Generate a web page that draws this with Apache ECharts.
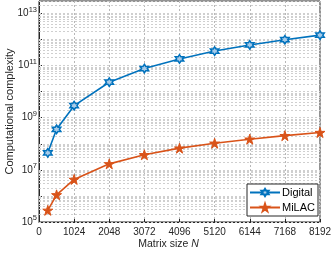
<!DOCTYPE html>
<html><head><meta charset="utf-8">
<script src="https://cdn.jsdelivr.net/npm/echarts@6/dist/echarts.min.js"></script>
<style>html,body{margin:0;padding:0;background:#fff}#c{width:333px;height:253px}</style>
</head><body><div id="c"></div>
<script>
// Data
const matrixSizes = [256, 512, 1024, 2048, 3072, 4096, 5120, 6144, 7168, 8192];
const digital = [4.5e7, 3.6e8, 2.9e9, 2.3e10, 7.7e10, 1.8e11, 3.6e11, 6.2e11, 9.8e11, 1.47e12];
const milac   = [2.8e5, 1.1e6, 4.3e6, 1.7e7, 3.8e7, 6.8e7, 1.05e8, 1.5e8, 2.05e8, 2.7e8];
const xTicks = [0, 1024, 2048, 3072, 4096, 5120, 6144, 7168, 8192];
const yLabelExponents = [5, 7, 9, 11, 13];
const seriesNames = ['Digital', 'MiLAC'];

const blue = '#0072BD', orange = '#D95319', ink = '#262626';
const font = 'Liberation Sans, Arial, Helvetica, sans-serif';

// minor log grid positions (2..9 x each decade)
const minorGrid = [];
for (let e = 5; e <= 13; e++) {
  for (let m = 1; m <= 9; m++) {
    const v = m * Math.pow(10, e);
    if (v <= 3e13) minorGrid.push({ yAxis: v });
  }
}

const hexagram = 'path://M0,-10L2.887,-5L8.66,-5L5.774,0L8.66,5L2.887,5L0,10L-2.887,5L-8.66,5L-5.774,0L-8.66,-5L-2.887,-5Z';
const pentagram = 'path://M0,-10L2.245,-3.09L9.511,-3.09L3.633,1.18L5.878,8.09L0,3.82L-5.878,8.09L-3.633,1.18L-9.511,-3.09L-2.245,-3.09Z';

const chart = echarts.init(document.getElementById('c'), null, { renderer: 'canvas' });
chart.setOption({
  animation: false,
  textStyle: { fontFamily: font, color: ink },
  grid: { left: 39, right: 13, top: 1, bottom: 31, outerBoundsMode: 'none', containLabel: false,
    show: true, borderColor: ink, borderWidth: 1, backgroundColor: 'transparent' },
  legend: {
    data: seriesNames,
    orient: 'vertical',
    left: 247, top: 184, z: 20,
    itemWidth: 30, itemHeight: 9, itemGap: 4,
    padding: [3, 3, 3, 2],
    borderColor: ink, borderWidth: 1, backgroundColor: '#fff',
    textStyle: { fontFamily: font, fontSize: 11, color: '#000', padding: [0, 0, 0, -3] }
  },
  xAxis: {
    type: 'value', min: 0, max: 8192, interval: 1024,
    name: '{a|Matrix size }{i|N}', nameLocation: 'middle', nameGap: 17, nameMoveOverlap: false,
    nameTextStyle: { padding: [0, 22, 0, 0], rich: { a: { fontSize: 10.5, fontFamily: font, color: ink }, i: { fontSize: 10.5, fontFamily: font, fontStyle: 'italic', color: ink } } },
    axisLine: { show: true, lineStyle: { color: ink } },
    axisTick: { show: true, inside: true, length: 3, lineStyle: { color: ink } },
    axisLabel: { fontSize: 10, color: ink, margin: 5, formatter: v => xTicks.includes(v) ? String(v) : '' },
    splitLine: { show: true, lineStyle: { color: '#b8b8b8', type: [2, 2], width: 1 } }
  },
  yAxis: {
    type: 'log', logBase: 10, min: 1e5, max: 3e13, splitNumber: 8,
    name: 'Computational complexity', nameLocation: 'middle', nameGap: 24, nameMoveOverlap: false,
    nameTextStyle: { fontSize: 11, color: ink },
    axisLine: { show: true, lineStyle: { color: ink } },
    axisTick: { show: true, inside: true, length: 3, lineStyle: { color: ink } },
    axisLabel: {
      showMaxLabel: false, margin: 2,
      formatter: v => {
        const e = Math.round(Math.log10(v));
        if (Math.abs(Math.log10(v) - e) > 1e-6) return '';
        if (!yLabelExponents.includes(e)) return '';
        return '{b|10}{s|' + e + '}';
      },
      rich: {
        b: { fontSize: 10, color: ink, fontFamily: font, lineHeight: 16, verticalAlign: 'middle' },
        s: { fontSize: 7.5, color: ink, fontFamily: font, lineHeight: 8, verticalAlign: 'top' }
      }
    },
    splitLine: { show: true, lineStyle: { color: '#c0c0c0', type: [2, 2], width: 1 } }
  },
  series: [
    {
      name: 'minor', type: 'line', data: [], silent: true, z: 1,
      markLine: { silent: true, symbol: ['none', 'none'], label: { show: false }, z: 1,
        lineStyle: { color: '#cfcfcf', type: [2, 2], width: 1 }, data: minorGrid, animation: false }
    },
    {
      name: 'Digital', type: 'line', data: matrixSizes.map((x, i) => [x, digital[i]]),
      symbol: hexagram, symbolSize: 8.5, showAllSymbol: true,
      lineStyle: { color: blue, width: 1.6 },
      itemStyle: { color: '#a8cbe8', borderColor: blue, borderWidth: 1.5 }, z: 3
    },
    {
      name: 'MiLAC', type: 'line', data: matrixSizes.map((x, i) => [x, milac[i]]),
      symbol: pentagram, symbolSize: 10, showAllSymbol: true,
      lineStyle: { color: orange, width: 1.6 },
      itemStyle: { color: orange, borderColor: orange, borderWidth: 1 }, z: 3
    }
  ]
});
</script></body></html>
